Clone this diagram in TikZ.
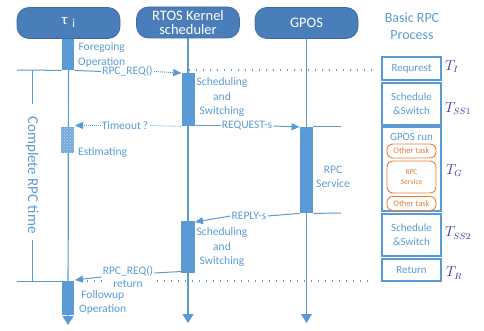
\documentclass[tikz,border=0pt]{standalone}
\usepackage{fontspec}
\setmainfont{Carlito}
\usetikzlibrary{arrows.meta,patterns}
\definecolor{hdr}{HTML}{4A7EBB}
\definecolor{hdrd}{HTML}{3E6C9F}
\definecolor{ln}{HTML}{5B9BD5}
\definecolor{org}{HTML}{ED7D31}
\definecolor{mth}{HTML}{3333A8}
\tikzset{
  hdrbox/.style={draw=hdrd, line width=0.8pt, fill=hdr, rounded corners=12pt, text=white,
    minimum width=103pt, minimum height=31pt, inner sep=0pt, align=center,
    font=\fontsize{14.5}{13.8}\selectfont},
  barbox/.style={fill=ln, draw=none, inner sep=0pt, anchor=north},
  life/.style={draw=ln, line width=1.2pt},
  lifearrow/.style={life, -{Triangle[length=9pt,width=11pt]}},
  plain/.style={draw=ln, line width=1pt},
  msg/.style={draw=ln, line width=1pt, -{Triangle[length=8pt,width=7pt]}},
  dotline/.style={draw=ln, line width=1.1pt, dash pattern=on 1pt off 6pt},
  lbl/.style={text=ln, font=\fontsize{11.5}{14.5}\selectfont, align=center, inner sep=1pt},
  procbox/.style={draw=ln, line width=1.1pt, minimum width=59pt, text=ln,
    font=\fontsize{11}{14}\selectfont, align=center, inner sep=0pt},
  subbox/.style={draw=org, line width=0.9pt, rounded corners=6pt, text=org,
    font=\fontsize{8.5}{10}\selectfont, align=center, minimum width=49pt, inner sep=0pt},
  mlab/.style={text=mth, font=\fontsize{13.5}{13.5}\selectfont, anchor=west, inner sep=0pt}
}
\begin{document}
\begin{tikzpicture}[x=1pt,y=-1pt]
\useasboundingbox (0,0) rectangle (484,331);

% headers
\node[hdrbox] (tau) at (68.5,23) {τ\hspace{5pt}\raisebox{-3pt}{\fontsize{12}{12}\selectfont i}};
\node[hdrbox] (rtos) at (188,22.5) {RTOS Kernel\\scheduler};
\node[hdrbox] (gpos) at (306.5,23) {GPOS};
\node[text=ln, font=\fontsize{14}{17}\selectfont, align=center] (basic) at (412,26) {Basic RPC\\Process};

% lifeline ends
\coordinate (tauend) at (68,325);
\coordinate (rtosend) at (188,323);
\coordinate (gposend) at (306.5,323);
\draw[lifearrow] (tau.south) -- (tauend);
\draw[lifearrow] (rtos.south) -- (rtosend);
\draw[lifearrow] (gpos.south) -- (gposend);

% activation bars
\node[barbox, minimum width=12.5pt, minimum height=31pt] (tb1) at (68,39) {};
\node[barbox, minimum width=12.5pt, minimum height=34pt] (tb2) at (68,281) {};
\node[barbox, minimum width=13pt, minimum height=53pt] (rb1) at (188,73) {};
\node[barbox, minimum width=13.5pt, minimum height=52pt] (rb2) at (188,221) {};
\node[barbox, minimum width=13.5pt, minimum height=86pt] (gb) at (306.5,127) {};
\node[barbox, minimum width=12.5pt, minimum height=26pt, fill=ln!85!white] (est) at (67.5,127) {};
\fill[pattern=crosshatch dots, pattern color=white!60!ln] (est.north west) rectangle (est.south east);

% left bracket
\coordinate (bl1) at (17,70);
\coordinate (bl2) at (17,281);
\coordinate (bv1) at (32,70);
\coordinate (bv2) at (32,104);
\coordinate (bv3) at (32,240);
\coordinate (bv4) at (32,281);
\draw[plain] (bl1) -- (tb1.south west);
\draw[plain] (bl2) -- (tb2.north west);
\draw[plain] (bv1) -- (bv2);
\draw[plain] (bv3) -- (bv4);
\node[text=ln, font=\fontsize{15}{15}\selectfont, rotate=-90] (crt) at (32,175) {Complete RPC time};

% dotted horizontal lines
\coordinate (d1a) at (189,70);
\coordinate (d1b) at (372,70);
\coordinate (d2a) at (80,281);
\coordinate (d2b) at (372,281);
\draw[dotline] (d1a) -- (d1b);
\draw[dotline] (d2a) -- (d2b);

% RPC_REQ()
\node[lbl] (req) at (127.5,71.5) {RPC\_REQ()};
\draw[plain] (tb1.south east) -- (req.west);
\draw[msg, densely dotted] (req.east) -- (rb1.north west);

% Timeout
\coordinate (totip) at (75,125.5);
\node[lbl, fill=white] (to) at (125,125.5) {Timeout\,?};
\draw[draw=ln, line width=0.8pt, densely dotted] (rb1.south west) -- (to.east);
\draw[msg, densely dotted] (to.west) -- (totip);

% REQUEST-s
\coordinate (rqs) at (194.5,126);
\node[lbl, fill=white] (rq) at (247,126) {REQUEST-s};
\draw[plain] (rqs) -- (rq.west);
\draw[msg] (rq.east) -- (gb.north west);

% GPOS side lines
\coordinate (gl1) at (341,127);
\coordinate (gl2) at (341,213);
\draw[plain] (gb.north east) -- (gl1);
\draw[plain] (gb.south east) -- (gl2);

% REPLY-s
\coordinate (rptip) at (195,222);
\node[lbl, fill=white] (rp) at (249,216) {REPLY-s};
\draw[plain] (gb.south west) -- (rp.east);
\draw[msg] (rp.west) -- (rptip);

% return
\coordinate (rets) at (181.25,271.5);
\coordinate (rettip) at (75,280);
\node[lbl, fill=white, font=\fontsize{11.5}{13}\selectfont] (ret) at (128,276.5) {RPC\_REQ()\\return};
\draw[plain] (rets) -- (ret.east |- 0,273);
\draw[msg] (ret.west |- 0,277) -- (rettip);

% labels
\node[lbl, anchor=west] (fore) at (77,55) {Foregoing\\Operation};
\node[lbl] (ss1) at (222,97) {Scheduling\\and\\Switching};
\node[lbl, anchor=west] (estl) at (77,153) {Estimating};
\node[lbl] (rpcs) at (333,177) {RPC\\Service};
\node[lbl] (ss2) at (222,247) {Scheduling\\and\\Switching};
\node[lbl, anchor=west] (fol) at (78,302.5) {Followup\\Operation};

% right process column
\node[procbox, minimum height=23pt] (p1) at (411.5,68.5) {Requrest};
\node[procbox, minimum height=42pt] (p2) at (411.5,104) {Schedule\\\&Switch};
\node[procbox, minimum height=84pt] (p3) at (411.5,169) {};
\node[text=ln, font=\fontsize{11}{11}\selectfont, inner sep=0pt] (p3t) at (411.5,137) {GPOS run};
\node[subbox, minimum height=14pt] (o1) at (411.5,151) {Other task};
\node[subbox, minimum height=32pt, font=\fontsize{7.5}{10}\selectfont] (o2) at (411.5,177) {RPC\\Service};
\node[subbox, minimum height=14pt] (o3) at (411.5,203.5) {Other task};
\node[procbox, minimum height=42pt] (p4) at (411.5,235) {Schedule\\\&Switch};
\node[procbox, minimum height=22pt] (p5) at (411.5,270) {Return};

% time labels
\node[mlab] (ti) at (445,67) {$T_I$};
\node[mlab] (tss1) at (445,109) {$T_{SS1}$};
\node[mlab] (tg) at (446,171) {$T_G$};
\node[mlab] (tss2) at (445,233) {$T_{SS2}$};
\node[mlab] (tr) at (446,273) {$T_R$};
\end{tikzpicture}
\end{document}
